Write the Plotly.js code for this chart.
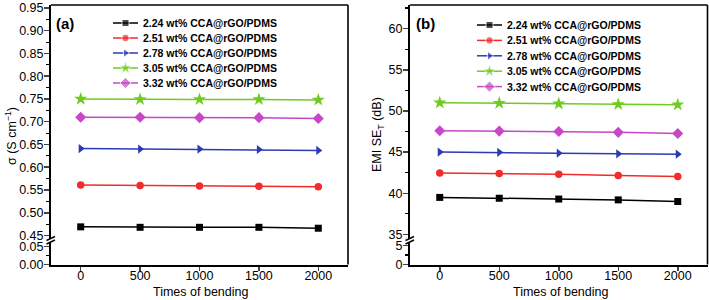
<!DOCTYPE html>
<html>
<head>
<meta charset="utf-8">
<script src="https://cdn.plot.ly/plotly-3.0.1.min.js"></script>
<style>html,body{margin:0;padding:0;background:#fff}#chart{width:709px;height:300px}</style>
</head>
<body>
<div id="chart"></div>
<script>
// ---- data ----
const bending = [0, 500, 1000, 1500, 2000];
const seriesNames = ['2.24 wt% CCA@rGO/PDMS', '2.51 wt% CCA@rGO/PDMS', '2.78 wt% CCA@rGO/PDMS', '3.05 wt% CCA@rGO/PDMS', '3.32 wt% CCA@rGO/PDMS'];
const sigma224 = [0.469, 0.468, 0.468, 0.468, 0.466];
const sigma251 = [0.561, 0.560, 0.559, 0.558, 0.557];
const sigma278 = [0.641, 0.640, 0.640, 0.639, 0.637];
const sigma305 = [0.750, 0.749, 0.749, 0.749, 0.748];
const sigma332 = [0.710, 0.710, 0.709, 0.709, 0.707];
const emi224 = [39.5, 39.4, 39.3, 39.2, 39.0];
const emi251 = [42.45, 42.4, 42.3, 42.15, 42.05];
const emi278 = [45.0, 44.97, 44.87, 44.8, 44.75];
const emi305 = [51.0, 50.95, 50.87, 50.8, 50.75];
const emi332 = [47.6, 47.55, 47.5, 47.4, 47.27];
const xTicks = [0, 500, 1000, 1500, 2000];
const xTitle = 'Times of bending';
const yTitleA = 'σ (S cm<sup>−1</sup>)';
const yTitleB = 'EMI SE<sub>T</sub> (dB)';

// ---- styles ----
const colors = ['#000000', '#F22B2B', '#2B3BB5', '#6FCC1E', '#C847C8'];
const symbols = ['square', 'circle', 'triangle-right', 'star', 'diamond'];
const msizes = [7, 7.5, 8, 10, 8.5];
const FONT = 'Liberation Sans, Arial, sans-serif';
const W = 709, H = 300;
const px = x => x / W, py = y => 1 - y / H;

const sigmaSets = [sigma224, sigma251, sigma278, sigma305, sigma332];
const emiSets = [emi224, emi251, emi278, emi305, emi332];

const traces = [];
// empty traces so the lower (broken) segments of the y axes get drawn
traces.push({x: [], y: [], xaxis: 'x', yaxis: 'y', type: 'scatter', mode: 'markers', showlegend: false, hoverinfo: 'skip'});
traces.push({x: [], y: [], xaxis: 'x2', yaxis: 'y3', type: 'scatter', mode: 'markers', showlegend: false, hoverinfo: 'skip'});
sigmaSets.forEach((s, i) => traces.push({
  x: bending, y: s, xaxis: 'x', yaxis: 'y2', type: 'scatter', mode: 'lines+markers',
  name: seriesNames[i], showlegend: false, cliponaxis: false,
  line: {color: colors[i], width: 1.5},
  marker: {symbol: symbols[i], size: msizes[i], color: colors[i]}
}));
emiSets.forEach((s, i) => traces.push({
  x: bending, y: s, xaxis: 'x2', yaxis: 'y4', type: 'scatter', mode: 'lines+markers',
  name: seriesNames[i], showlegend: false, cliponaxis: false,
  line: {color: colors[i], width: 1.5},
  marker: {symbol: symbols[i], size: msizes[i], color: colors[i]}
}));

// legend keys (layout decoration, placed in pixel space of an overlay axis)
const legends = [
  {lineX0: 113, lineX1: 138, textX: 141, top: 23, step: 15},
  {lineX0: 477, lineX1: 502, textX: 505, top: 25, step: 15.4}
];
const annotations = [];
legends.forEach(L => {
  seriesNames.forEach((nm, i) => {
    const yy = L.top + i * L.step;
    traces.push({
      x: [L.lineX0, (L.lineX0 + L.lineX1) / 2, L.lineX1], y: [yy, yy, yy],
      xaxis: 'x3', yaxis: 'y5', type: 'scatter', mode: 'lines+markers',
      showlegend: false, hoverinfo: 'skip', cliponaxis: false,
      line: {color: colors[i], width: 1.5},
      marker: {symbol: symbols[i], size: [0, msizes[i], 0], color: colors[i]}
    });
    annotations.push({
      xref: 'paper', yref: 'paper', x: px(L.textX), y: py(yy), xanchor: 'left', yanchor: 'middle',
      text: '<b>' + nm + '</b>', showarrow: false, font: {family: FONT, size: 10.5, color: '#000'}
    });
  });
});

// panel labels, axis titles
const A = (x, y, text, size, opts) => Object.assign({xref: 'paper', yref: 'paper', x: px(x), y: py(y),
  xanchor: 'center', yanchor: 'middle', text: text, showarrow: false, font: {family: FONT, size: size, color: '#000'}}, opts || {});
annotations.push(A(54, 23, '<b>(a)</b>', 15, {xanchor: 'left'}));
annotations.push(A(414, 23, '<b>(b)</b>', 15, {xanchor: 'left'}));
annotations.push(A(11, 136, yTitleA, 12.5, {textangle: -90}));
annotations.push(A(378, 134, yTitleB, 12.5, {textangle: -90}));
annotations.push(A(200, 292, xTitle, 12.5));
annotations.push(A(560, 292, xTitle, 12.5));

const tickFont = {family: FONT, size: 12.5, color: '#000'};
function xAxis(dom, anchor) {
  return {domain: dom, anchor: anchor, range: [-250, 2250], tickvals: xTicks, ticks: 'outside', ticklen: 4.5, tickwidth: 1.5,
    ticklabelstandoff: -6,
    showline: true, linewidth: 2, linecolor: '#000', showgrid: false, zeroline: false, tickfont: tickFont};
}
function yAxis(dom, anchor, range, dtick, fmt) {
  return {domain: dom, anchor: anchor, range: range, dtick: dtick, tick0: 0, tickformat: fmt, ticks: 'outside', ticklen: 5, tickwidth: 1.5,
    ticklabelstandoff: -2,
    minor: {dtick: dtick / 2, ticks: 'outside', ticklen: 3, tickwidth: 1.2, tickcolor: '#000'},
    showline: true, linewidth: 2, linecolor: '#000', showgrid: false, zeroline: false, tickfont: tickFont};
}

const shapes = [];
// frame top & right for each panel, plus axis-break marks
[[51, 348], [410, 707.5]].forEach(([l, r]) => {
  shapes.push({type: 'line', xref: 'paper', yref: 'paper', x0: px(l), x1: px(r), y0: py(5), y1: py(5), line: {color: '#000', width: 1.6}});
  shapes.push({type: 'line', xref: 'paper', yref: 'paper', x0: px(r), x1: px(r), y0: py(5), y1: py(264.5), line: {color: '#000', width: 1.6}});
  shapes.push({type: 'line', xref: 'paper', yref: 'paper', x0: px(l - 4.5), x1: px(l + 4), y0: py(240.5), y1: py(236.5), line: {color: '#000', width: 1.4}});
  shapes.push({type: 'line', xref: 'paper', yref: 'paper', x0: px(l - 4.5), x1: px(l + 4), y0: py(244), y1: py(240), line: {color: '#000', width: 1.4}});
});

const layout = {
  width: W, height: H, margin: {l: 0, r: 0, t: 0, b: 0},
  paper_bgcolor: '#fff', plot_bgcolor: 'rgba(0,0,0,0)', showlegend: false,
  font: {family: FONT, color: '#000'},
  xaxis: xAxis([px(51), px(348)], 'y'),
  yaxis: yAxis([py(264.5), py(241.5)], 'x', [0, 0.0635], 0.05, '.2f'),
  yaxis2: yAxis([py(239), py(5)], 'x', [0.4423, 0.95656], 0.05, '.2f'),
  xaxis2: xAxis([px(410), px(707.5)], 'y3'),
  yaxis3: yAxis([py(264.5), py(241.5)], 'x2', [0, 6.03], 5, 'd'),
  yaxis4: yAxis([py(239), py(5)], 'x2', [34.45, 62.865], 5, 'd'),
  xaxis3: {domain: [0, 1], anchor: 'y5', range: [0, W], visible: false, fixedrange: true},
  yaxis5: {domain: [0, 1], anchor: 'x3', range: [H, 0], visible: false, fixedrange: true},
  shapes: shapes, annotations: annotations
};

Plotly.newPlot('chart', traces, layout, {staticPlot: true, displayModeBar: false});
</script>
</body>
</html>
